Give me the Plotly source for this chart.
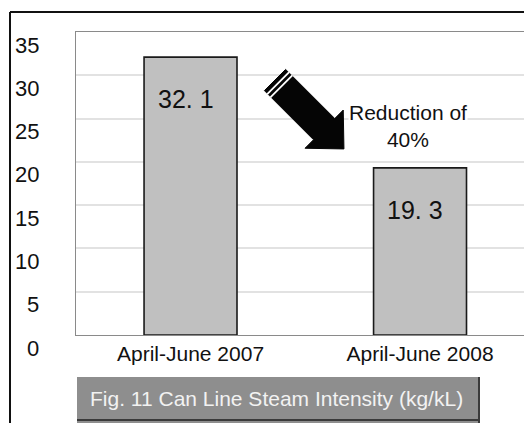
import math
import plotly.graph_objects as go

# Data
periods = ["April-June 2007", "April-June 2008"]
steam_intensity = [32.1, 19.3]
value_labels = ["32. 1", "19. 3"]
y_ticks = [0, 5, 10, 15, 20, 25, 30, 35]
note_text = "Reduction of<br>40%"
caption = "Fig. 11 Can Line Steam Intensity (kg/kL)"

W, H = 524, 423
ML, MR, MT, MB = 76, 0, 32, 88
PW, PH = W - ML - MR, H - MT - MB

SANS = "Liberation Sans, Arial, sans-serif"


def px_x(px):
    return (px - ML) / PW


def px_y(py):
    return (H - MB - py) / PH


fig = go.Figure()
fig.add_trace(go.Bar(
    x=[0, 1], y=steam_intensity, width=0.405,
    marker=dict(color="#c0c0c0", line=dict(color="#1a1a1a", width=1.6)),
    hoverinfo="skip",
))

annotations = []
# value labels inside the bars
for i, (v, t) in enumerate(zip(steam_intensity, value_labels)):
    annotations.append(dict(x=i - 0.02, y=v, xref="x", yref="y", text=t, showarrow=False,
                            xanchor="center", yanchor="middle", yshift=-42,
                            font=dict(family=SANS, size=25, color="#111")))
# y-axis labels, sitting just below their gridlines
for t in y_ticks:
    annotations.append(dict(x=px_x(41), y=t, xref="paper", yref="y", text=str(t),
                            showarrow=False, xanchor="right", yanchor="middle", yshift=-13,
                            font=dict(family=SANS, size=22, color="#111")))
# reduction note
annotations.append(dict(x=px_x(408), y=px_y(126), xref="paper", yref="paper", text=note_text,
                        showarrow=False, bgcolor="white", borderpad=0,
                        xanchor="center", yanchor="middle",
                        font=dict(family=SANS, size=21, color="#111")))
# caption
annotations.append(dict(x=px_x(276), y=px_y(399), xref="paper", yref="paper", text=caption,
                        showarrow=False, xanchor="center", yanchor="middle",
                        font=dict(family=SANS, size=21, color="#f2f2f2")))

shapes = []
# outer frame (top and left)
shapes.append(dict(type="line", xref="paper", yref="paper", x0=px_x(10), y0=px_y(12),
                   x1=px_x(W), y1=px_y(12), line=dict(color="#111", width=2)))
shapes.append(dict(type="line", xref="paper", yref="paper", x0=px_x(10), y0=px_y(12),
                   x1=px_x(10), y1=px_y(H), line=dict(color="#111", width=2)))
# caption box
shapes.append(dict(type="rect", xref="paper", yref="paper", x0=px_x(77), y0=px_y(377),
                   x1=px_x(479), y1=px_y(H + 2), fillcolor="#8e8e8e", line=dict(width=0)))
shapes.append(dict(type="line", xref="paper", yref="paper", x0=px_x(479), y0=px_y(377),
                   x1=px_x(479), y1=px_y(H), line=dict(color="#3a3a3a", width=2)))
shapes.append(dict(type="line", xref="paper", yref="paper", x0=px_x(77), y0=px_y(420),
                   x1=px_x(479), y1=px_y(420), line=dict(color="#3a3a3a", width=2)))

# block arrow pointing down-right
ux, uy = 1 / math.sqrt(2), 1 / math.sqrt(2)
vx, vy = 1 / math.sqrt(2), -1 / math.sqrt(2)
tx, ty = 275.0, 80.0
shaft_len, shaft_hw, head_len, head_hw = 69.5, 15, 28, 27


def pt(a, b):
    return tx + a * ux + b * vx, ty + a * uy + b * vy


pts = [pt(0, shaft_hw), pt(shaft_len, shaft_hw), pt(shaft_len, head_hw),
       pt(shaft_len + head_len, 0), pt(shaft_len, -head_hw), pt(shaft_len, -shaft_hw),
       pt(0, -shaft_hw)]
path = "M " + " L ".join(f"{px_x(a):.5f},{px_y(b):.5f}" for a, b in pts) + " Z"
shapes.append(dict(type="path", xref="paper", yref="paper", path=path,
                   fillcolor="#050505", line=dict(color="#050505", width=1)))
for d in (4.5, 9.0):
    (a0, b0), (a1, b1) = pt(d, shaft_hw + 0.5), pt(d, -shaft_hw - 0.5)
    shapes.append(dict(type="line", xref="paper", yref="paper", x0=px_x(a0), y0=px_y(b0),
                       x1=px_x(a1), y1=px_y(b1), line=dict(color="white", width=1.8)))

fig.update_layout(
    width=W, height=H,
    margin=dict(l=ML, r=MR, t=MT, b=MB, pad=0),
    paper_bgcolor="white", plot_bgcolor="white",
    showlegend=False,
    annotations=annotations, shapes=shapes,
    xaxis=dict(range=[-0.499, 1.453], tickvals=[0, 1], ticktext=periods,
               tickfont=dict(family=SANS, size=21, color="#111"), ticks="",
               showgrid=False, zeroline=False, showline=True, linecolor="#8a8a8a",
               linewidth=1.3, mirror=True, fixedrange=True),
    yaxis=dict(range=[0, 35], tickvals=y_ticks, showticklabels=False, ticks="",
               showgrid=True, gridcolor="#e2e2e2", gridwidth=1.5, zeroline=False,
               showline=True, linecolor="#8a8a8a", linewidth=1.3, mirror=False,
               fixedrange=True),
)

fig.write_html("out.html")
